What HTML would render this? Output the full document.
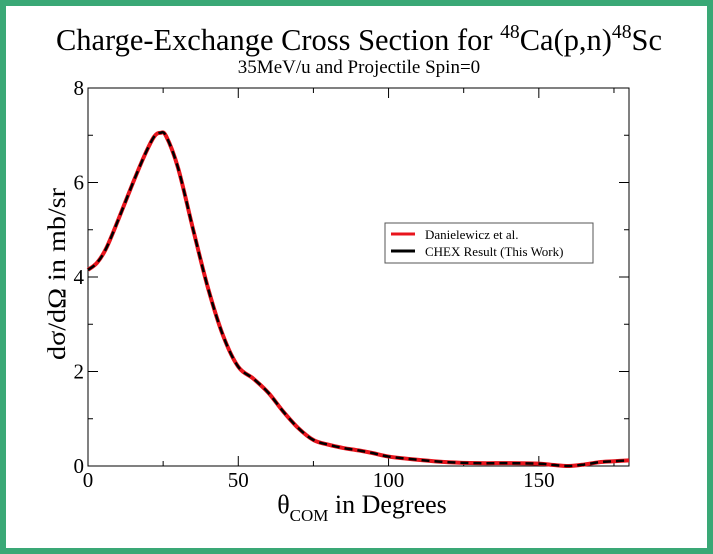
<!DOCTYPE html>
<html><head><meta charset="utf-8"><style>
html,body{margin:0;padding:0;background:#fff}
body{width:713px;height:554px;overflow:hidden}
#frame{position:absolute;left:0;top:0;width:701px;height:542px;border:6px solid #3aa876;background:#fff}
svg{position:absolute;left:0;top:0}
text{font-family:"Liberation Serif",serif;fill:#000}
</style></head><body>
<div id="frame"></div>
<svg id="chart" width="713" height="554">
<text x="359" y="50" font-size="31" text-anchor="middle" textLength="606" lengthAdjust="spacingAndGlyphs">Charge-Exchange Cross Section for <tspan font-size="20" dy="-12">48</tspan><tspan dy="12">Ca(p,n)</tspan><tspan font-size="20" dy="-12">48</tspan><tspan dy="12">Sc</tspan></text>
<text x="359" y="73" font-size="19" text-anchor="middle">35MeV/u and Projectile Spin=0</text>
<text transform="translate(65,274) rotate(-90)" font-size="25" text-anchor="middle" textLength="172" lengthAdjust="spacingAndGlyphs">dσ/dΩ in mb/sr</text>
<text x="362" y="513" font-size="26" text-anchor="middle">θ<tspan font-size="17" dy="8">COM</tspan><tspan dy="-8"> in Degrees</tspan></text>
<g id="axes"></g>
<g id="series"></g>
<g>
<rect x="385" y="223" width="208" height="40" fill="#fff" stroke="#555" stroke-width="1"/>
<line x1="391" y1="234" x2="415" y2="234" stroke="#e8141c" stroke-width="3"/>
<text x="425" y="239" font-size="13">Danielewicz et al.</text>
<line x1="391" y1="251" x2="415" y2="251" stroke="#000" stroke-width="3"/>
<text x="425" y="256" font-size="13">CHEX Result (This Work)</text>
</g>
</svg>
<script>
const xTicks=[0,50,100,150];
const yTicks=[0,2,4,6,8];
const angles=[0,3,6,10,15,19,22,24,26,30,35,40,45,50,55,60,65,70,75,80,85,90,95,100,110,120,130,140,150,155,160,165,170,175,180];
const danielewicz=[4.15,4.3,4.6,5.2,6.0,6.6,6.97,7.05,6.98,6.3,5.0,3.75,2.75,2.1,1.85,1.55,1.15,0.8,0.55,0.45,0.38,0.33,0.27,0.2,0.13,0.08,0.06,0.06,0.05,0.02,0.0,0.03,0.08,0.1,0.12];
const chex=[4.15,4.3,4.6,5.2,6.0,6.6,6.97,7.05,6.98,6.3,5.0,3.75,2.75,2.1,1.85,1.55,1.15,0.8,0.55,0.45,0.38,0.33,0.27,0.2,0.13,0.08,0.06,0.06,0.05,0.02,0.0,0.03,0.08,0.1,0.12];
const L=88,R=629,T=88,B=466;
const sx=v=>L+(v-0)/(180-0)*(R-L);
const sy=v=>B-(v-0)/(8-0)*(B-T);
const NS='http://www.w3.org/2000/svg';
function mk(tag,attrs,parent){const e=document.createElementNS(NS,tag);for(const k in attrs)e.setAttribute(k,attrs[k]);parent.appendChild(e);return e;}
const ax=document.getElementById('axes');
const frame=mk('rect',{x:L,y:T,width:R-L,height:B-T,fill:'none',stroke:'#000','stroke-width':1},ax);


for(let v=0;v<=180;v+=25){const x=sx(v);const maj=v%50===0;const len=maj?10:5;
 mk('line',{x1:x,y1:B,x2:x,y2:B-len,stroke:'#000'},ax);mk('line',{x1:x,y1:T,x2:x,y2:T+len,stroke:'#000'},ax);}
for(let v=0;v<=8;v+=1){const y=sy(v);const len=v%2===0?10:5;
 mk('line',{x1:L,y1:y,x2:L+len,y2:y,stroke:'#000'},ax);mk('line',{x1:R,y1:y,x2:R-len,y2:y,stroke:'#000'},ax);}
xTicks.forEach(v=>{const t=mk('text',{x:sx(v),y:B+21,'font-size':21,'text-anchor':'middle'},ax);t.textContent=v;
 
 });
yTicks.forEach(v=>{const t=mk('text',{x:L-4,y:sy(v)+7,'font-size':21,'text-anchor':'end'},ax);t.textContent=v;
 
 });
function pathD(xs,ys){const p=xs.map((x,i)=>[sx(x),sy(ys[i])]);let d='M'+p[0][0]+','+p[0][1];
 for(let i=0;i<p.length-1;i++){const p0=p[Math.max(i-1,0)],p1=p[i],p2=p[i+1],p3=p[Math.min(i+2,p.length-1)];
 const c1=[p1[0]+(p2[0]-p0[0])/6,p1[1]+(p2[1]-p0[1])/6],c2=[p2[0]-(p3[0]-p1[0])/6,p2[1]-(p3[1]-p1[1])/6];
 d+=' C'+c1+' '+c2+' '+p2;}return d;}
const sg=document.getElementById('series');
const a=mk('path',{d:pathD(angles,danielewicz),fill:'none',stroke:'#e8141c','stroke-width':4},sg);


const b=mk('path',{d:pathD(angles,chex),fill:'none',stroke:'#000','stroke-width':2.5,'stroke-dasharray':'8,5'},sg);


</script>
</body></html>
